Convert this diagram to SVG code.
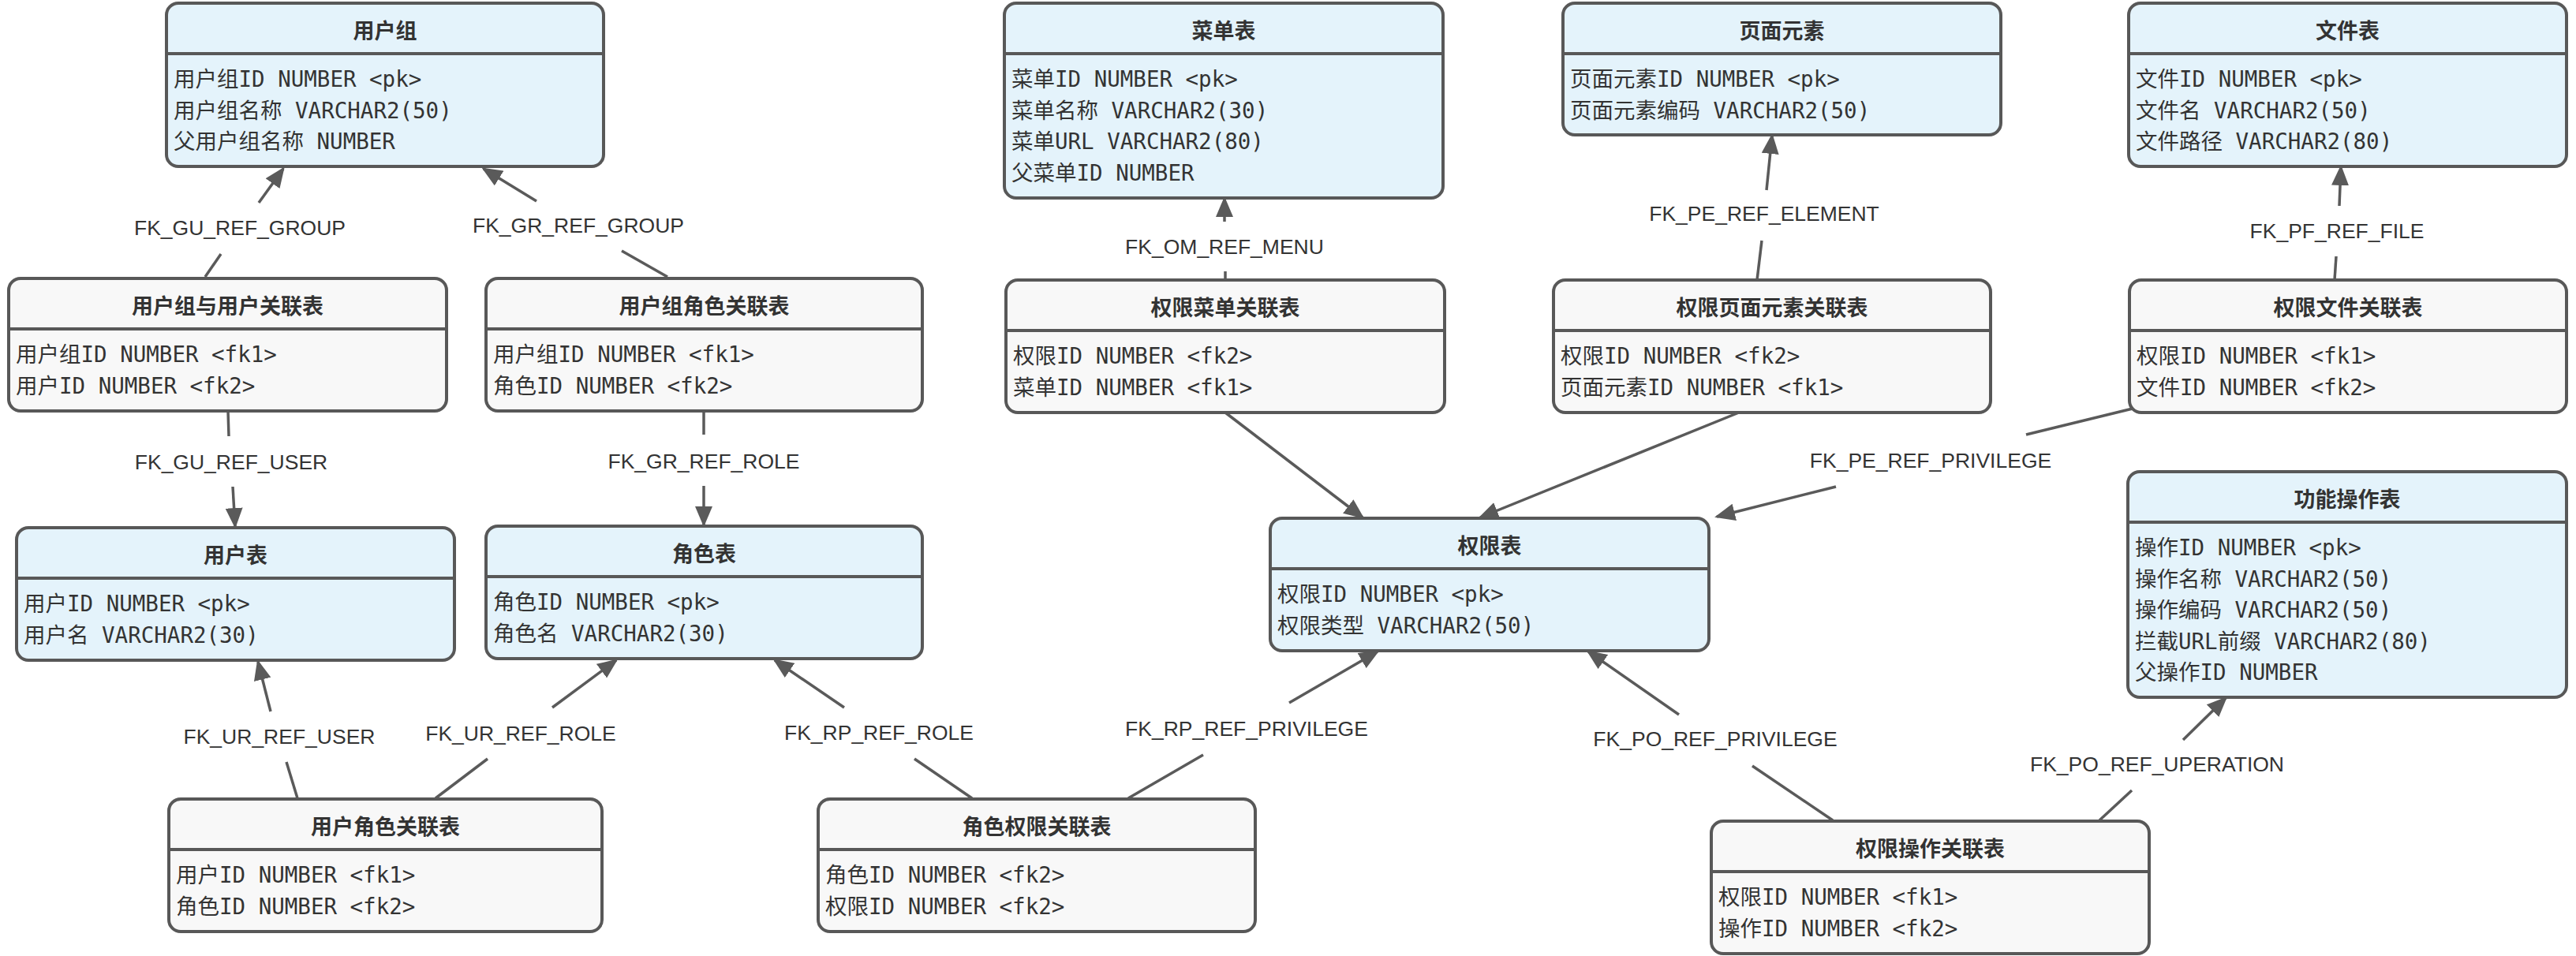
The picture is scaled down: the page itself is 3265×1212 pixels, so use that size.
<svg xmlns="http://www.w3.org/2000/svg" width="3265" height="1212" viewBox="0 0 3265 1212">
<style>
.bg{fill:#ffffff}
.blue{fill:#e4f3fb;stroke:#585858;stroke-width:4}
.gray{fill:#f8f8f8;stroke:#585858;stroke-width:4}
.sep{stroke:#585858;stroke-width:4}
.title{font-family:"Noto Sans CJK SC","Liberation Sans",sans-serif;font-weight:bold;font-size:27px;fill:#333333;text-anchor:middle;dominant-baseline:central}
.row{font-family:"DejaVu Sans Mono","Noto Sans CJK SC",monospace;font-size:27.5px;fill:#333333;dominant-baseline:central}
.edge{fill:none;stroke:#5a5a5a;stroke-width:3.5}
.lbl{font-family:"Liberation Sans",Arial,sans-serif;font-size:26.5px;fill:#333333;text-anchor:middle;dominant-baseline:central}
</style>
<defs>
<marker id="arr" viewBox="0 0 26 22" refX="23" refY="11" markerWidth="26" markerHeight="22" markerUnits="userSpaceOnUse" orient="auto">
<path d="M0,0 L26,11 L0,22 z" fill="#5a5a5a"/>
</marker>
</defs>
<rect class="bg" x="0" y="0" width="3265" height="1212"/>

<g id="connectors">
<!-- FK_GU_REF_GROUP -->
<line class="edge" x1="260" y1="351" x2="280" y2="322"/>
<line class="edge" x1="328" y1="257" x2="359" y2="214" marker-end="url(#arr)"/>
<text class="lbl" x="304" y="289">FK_GU_REF_GROUP</text>
<!-- FK_GR_REF_GROUP -->
<line class="edge" x1="846" y1="351" x2="788" y2="318"/>
<line class="edge" x1="680" y1="255" x2="613" y2="214" marker-end="url(#arr)"/>
<text class="lbl" x="733" y="286">FK_GR_REF_GROUP</text>
<!-- FK_GU_REF_USER -->
<line class="edge" x1="289" y1="521" x2="290" y2="553"/>
<line class="edge" x1="295" y1="617" x2="298" y2="667" marker-end="url(#arr)"/>
<text class="lbl" x="293" y="586">FK_GU_REF_USER</text>
<!-- FK_GR_REF_ROLE -->
<line class="edge" x1="892" y1="521" x2="892" y2="551"/>
<line class="edge" x1="892" y1="616" x2="892" y2="665" marker-end="url(#arr)"/>
<text class="lbl" x="892" y="585">FK_GR_REF_ROLE</text>
<!-- FK_UR_REF_USER -->
<line class="edge" x1="377" y1="1012" x2="363" y2="966"/>
<line class="edge" x1="343" y1="902" x2="327" y2="839" marker-end="url(#arr)"/>
<text class="lbl" x="354" y="934">FK_UR_REF_USER</text>
<!-- FK_UR_REF_ROLE -->
<line class="edge" x1="552" y1="1012" x2="618" y2="962"/>
<line class="edge" x1="700" y1="897" x2="781" y2="837" marker-end="url(#arr)"/>
<text class="lbl" x="660" y="930">FK_UR_REF_ROLE</text>
<!-- FK_RP_REF_ROLE -->
<line class="edge" x1="1232" y1="1012" x2="1159" y2="962"/>
<line class="edge" x1="1070" y1="897" x2="982" y2="837" marker-end="url(#arr)"/>
<text class="lbl" x="1114" y="929">FK_RP_REF_ROLE</text>
<!-- FK_RP_REF_PRIVILEGE -->
<line class="edge" x1="1430" y1="1012" x2="1525" y2="957"/>
<line class="edge" x1="1634" y1="891" x2="1746" y2="826" marker-end="url(#arr)"/>
<text class="lbl" x="1580" y="924">FK_RP_REF_PRIVILEGE</text>
<!-- FK_PO_REF_PRIVILEGE -->
<line class="edge" x1="2323" y1="1040" x2="2221" y2="971"/>
<line class="edge" x1="2128" y1="906" x2="2013" y2="826" marker-end="url(#arr)"/>
<text class="lbl" x="2174" y="937">FK_PO_REF_PRIVILEGE</text>
<!-- FK_PO_REF_UPERATION -->
<line class="edge" x1="2661" y1="1040" x2="2702" y2="1002"/>
<line class="edge" x1="2767" y1="938" x2="2821" y2="885" marker-end="url(#arr)"/>
<text class="lbl" x="2734" y="969">FK_PO_REF_UPERATION</text>
<!-- FK_OM_REF_MENU -->
<line class="edge" x1="1553" y1="355" x2="1553" y2="344"/>
<line class="edge" x1="1552" y1="281" x2="1552" y2="252" marker-end="url(#arr)"/>
<text class="lbl" x="1552" y="313">FK_OM_REF_MENU</text>
<!-- FK_PE_REF_ELEMENT -->
<line class="edge" x1="2227" y1="355" x2="2233" y2="305"/>
<line class="edge" x1="2239" y1="241" x2="2246" y2="172" marker-end="url(#arr)"/>
<text class="lbl" x="2236" y="271">FK_PE_REF_ELEMENT</text>
<!-- FK_PF_REF_FILE -->
<line class="edge" x1="2959" y1="355" x2="2961" y2="325"/>
<line class="edge" x1="2965" y1="261" x2="2967" y2="212" marker-end="url(#arr)"/>
<text class="lbl" x="2962" y="293">FK_PF_REF_FILE</text>
<!-- FK_PE_REF_PRIVILEGE -->
<line class="edge" x1="2703" y1="518" x2="2568" y2="551"/>
<line class="edge" x1="2327" y1="617" x2="2176" y2="655" marker-end="url(#arr)"/>
<text class="lbl" x="2447" y="584">FK_PE_REF_PRIVILEGE</text>
<!-- unlabeled -->
<line class="edge" x1="1553" y1="523" x2="1727" y2="656" marker-end="url(#arr)"/>
<line class="edge" x1="2204" y1="523" x2="1876" y2="656" marker-end="url(#arr)"/>
</g>

<g id="n-usergroup" transform="translate(211,4)">
<rect class="blue" width="554" height="207" rx="15"/>
<line class="sep" x1="0" y1="64" x2="554" y2="64"/>
<text class="title" x="277" y="33">用户组</text>
<text class="row" x="9" y="96">用户组ID NUMBER &lt;pk&gt;</text>
<text class="row" x="9" y="135.5">用户组名称 VARCHAR2(50)</text>
<text class="row" x="9" y="175">父用户组名称 NUMBER</text>
</g>

<g id="n-menu" transform="translate(1273,4)">
<rect class="blue" width="556" height="247" rx="15"/>
<line class="sep" x1="0" y1="64" x2="556" y2="64"/>
<text class="title" x="278" y="33">菜单表</text>
<text class="row" x="9" y="96">菜单ID NUMBER &lt;pk&gt;</text>
<text class="row" x="9" y="135.5">菜单名称 VARCHAR2(30)</text>
<text class="row" x="9" y="175">菜单URL VARCHAR2(80)</text>
<text class="row" x="9" y="214.5">父菜单ID NUMBER</text>
</g>

<g id="n-element" transform="translate(1981,4)">
<rect class="blue" width="555" height="167" rx="15"/>
<line class="sep" x1="0" y1="64" x2="555" y2="64"/>
<text class="title" x="277.5" y="33">页面元素</text>
<text class="row" x="9" y="96">页面元素ID NUMBER &lt;pk&gt;</text>
<text class="row" x="9" y="135.5">页面元素编码 VARCHAR2(50)</text>
</g>

<g id="n-file" transform="translate(2698,4)">
<rect class="blue" width="555" height="207" rx="15"/>
<line class="sep" x1="0" y1="64" x2="555" y2="64"/>
<text class="title" x="277.5" y="33">文件表</text>
<text class="row" x="9" y="96">文件ID NUMBER &lt;pk&gt;</text>
<text class="row" x="9" y="135.5">文件名 VARCHAR2(50)</text>
<text class="row" x="9" y="175">文件路径 VARCHAR2(80)</text>
</g>

<g id="n-groupuser" transform="translate(11,353)">
<rect class="gray" width="555" height="168" rx="15"/>
<line class="sep" x1="0" y1="64" x2="555" y2="64"/>
<text class="title" x="277.5" y="33">用户组与用户关联表</text>
<text class="row" x="9" y="96">用户组ID NUMBER &lt;fk1&gt;</text>
<text class="row" x="9" y="135.5">用户ID NUMBER &lt;fk2&gt;</text>
</g>

<g id="n-grouprole" transform="translate(616,353)">
<rect class="gray" width="553" height="168" rx="15"/>
<line class="sep" x1="0" y1="64" x2="553" y2="64"/>
<text class="title" x="276.5" y="33">用户组角色关联表</text>
<text class="row" x="9" y="96">用户组ID NUMBER &lt;fk1&gt;</text>
<text class="row" x="9" y="135.5">角色ID NUMBER &lt;fk2&gt;</text>
</g>

<g id="n-privmenu" transform="translate(1275,355)">
<rect class="gray" width="556" height="168" rx="15"/>
<line class="sep" x1="0" y1="64" x2="556" y2="64"/>
<text class="title" x="278" y="33">权限菜单关联表</text>
<text class="row" x="9" y="96">权限ID NUMBER &lt;fk2&gt;</text>
<text class="row" x="9" y="135.5">菜单ID NUMBER &lt;fk1&gt;</text>
</g>

<g id="n-privelement" transform="translate(1969,355)">
<rect class="gray" width="554" height="168" rx="15"/>
<line class="sep" x1="0" y1="64" x2="554" y2="64"/>
<text class="title" x="277" y="33">权限页面元素关联表</text>
<text class="row" x="9" y="96">权限ID NUMBER &lt;fk2&gt;</text>
<text class="row" x="9" y="135.5">页面元素ID NUMBER &lt;fk1&gt;</text>
</g>

<g id="n-privfile" transform="translate(2699,355)">
<rect class="gray" width="554" height="168" rx="15"/>
<line class="sep" x1="0" y1="64" x2="554" y2="64"/>
<text class="title" x="277" y="33">权限文件关联表</text>
<text class="row" x="9" y="96">权限ID NUMBER &lt;fk1&gt;</text>
<text class="row" x="9" y="135.5">文件ID NUMBER &lt;fk2&gt;</text>
</g>

<g id="n-user" transform="translate(21,669)">
<rect class="blue" width="555" height="168" rx="15"/>
<line class="sep" x1="0" y1="64" x2="555" y2="64"/>
<text class="title" x="277.5" y="33">用户表</text>
<text class="row" x="9" y="96">用户ID NUMBER &lt;pk&gt;</text>
<text class="row" x="9" y="135.5">用户名 VARCHAR2(30)</text>
</g>

<g id="n-role" transform="translate(616,667)">
<rect class="blue" width="553" height="168" rx="15"/>
<line class="sep" x1="0" y1="64" x2="553" y2="64"/>
<text class="title" x="276.5" y="33">角色表</text>
<text class="row" x="9" y="96">角色ID NUMBER &lt;pk&gt;</text>
<text class="row" x="9" y="135.5">角色名 VARCHAR2(30)</text>
</g>

<g id="n-privilege" transform="translate(1610,657)">
<rect class="blue" width="556" height="168" rx="15"/>
<line class="sep" x1="0" y1="64" x2="556" y2="64"/>
<text class="title" x="278" y="33">权限表</text>
<text class="row" x="9" y="96">权限ID NUMBER &lt;pk&gt;</text>
<text class="row" x="9" y="135.5">权限类型 VARCHAR2(50)</text>
</g>

<g id="n-operation" transform="translate(2697,598)">
<rect class="blue" width="556" height="286" rx="15"/>
<line class="sep" x1="0" y1="64" x2="556" y2="64"/>
<text class="title" x="278" y="33">功能操作表</text>
<text class="row" x="9" y="96">操作ID NUMBER &lt;pk&gt;</text>
<text class="row" x="9" y="135.5">操作名称 VARCHAR2(50)</text>
<text class="row" x="9" y="175">操作编码 VARCHAR2(50)</text>
<text class="row" x="9" y="214.5">拦截URL前缀 VARCHAR2(80)</text>
<text class="row" x="9" y="254">父操作ID NUMBER</text>
</g>

<g id="n-userrole" transform="translate(214,1013)">
<rect class="gray" width="549" height="168" rx="15"/>
<line class="sep" x1="0" y1="64" x2="549" y2="64"/>
<text class="title" x="274.5" y="33">用户角色关联表</text>
<text class="row" x="9" y="96">用户ID NUMBER &lt;fk1&gt;</text>
<text class="row" x="9" y="135.5">角色ID NUMBER &lt;fk2&gt;</text>
</g>

<g id="n-roleprivilege" transform="translate(1037,1013)">
<rect class="gray" width="554" height="168" rx="15"/>
<line class="sep" x1="0" y1="64" x2="554" y2="64"/>
<text class="title" x="277" y="33">角色权限关联表</text>
<text class="row" x="9" y="96">角色ID NUMBER &lt;fk2&gt;</text>
<text class="row" x="9" y="135.5">权限ID NUMBER &lt;fk2&gt;</text>
</g>

<g id="n-privoperation" transform="translate(2169,1041)">
<rect class="gray" width="555" height="168" rx="15"/>
<line class="sep" x1="0" y1="64" x2="555" y2="64"/>
<text class="title" x="277.5" y="33">权限操作关联表</text>
<text class="row" x="9" y="96">权限ID NUMBER &lt;fk1&gt;</text>
<text class="row" x="9" y="135.5">操作ID NUMBER &lt;fk2&gt;</text>
</g>
</svg>
